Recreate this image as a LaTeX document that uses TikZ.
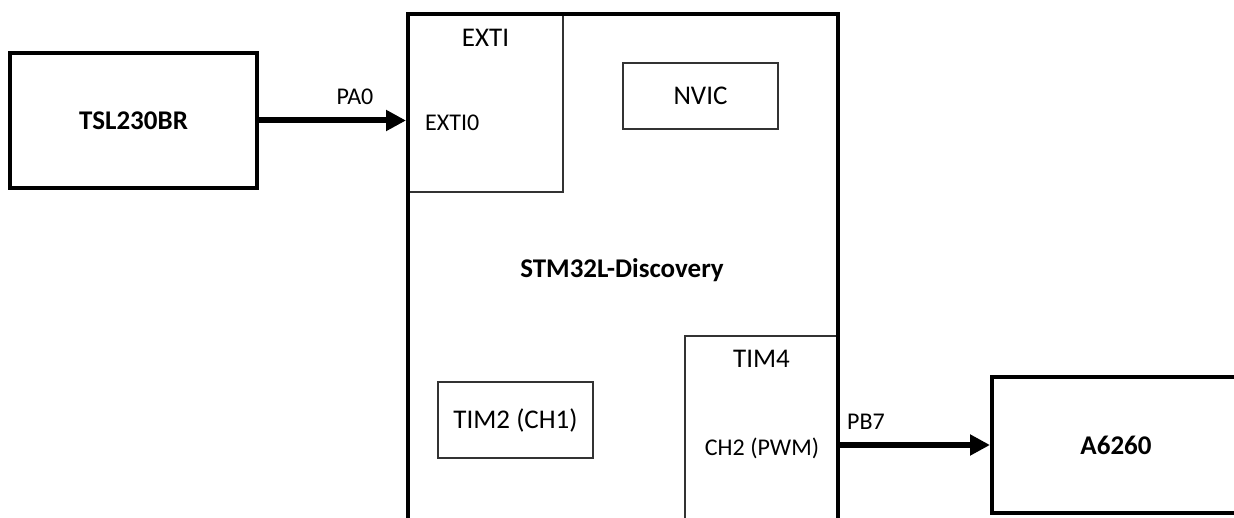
\documentclass[tikz,border=0pt]{standalone}
\usepackage{fontspec}
\setmainfont{Carlito}
\usetikzlibrary{arrows.meta}
\begin{document}
\begin{tikzpicture}[x=1pt,y=-1pt,
  thickbox/.style={draw=black, line width=4pt, inner sep=0pt, font=\fontsize{27}{32}\selectfont\bfseries},
  thinbox/.style={draw=black!80, line width=1.5pt, inner sep=0pt, font=\fontsize{27}{32}\selectfont},
  smalllbl/.style={inner sep=0pt, font=\fontsize{24}{28}\selectfont},
  biglbl/.style={inner sep=0pt, font=\fontsize{27}{32}\selectfont},
  conn/.style={line width=6pt, -{Triangle[length=20pt,width=20pt]}}]
\useasboundingbox (0,0) rectangle (1234,518);
\clip (0,0) rectangle (1234,518);
% inner blocks
\node[thinbox, minimum width=155pt, minimum height=178pt] (exti) at (485.5,103) {};
\node[thinbox, minimum width=155pt, minimum height=66pt] (nvic) at (700.5,96) {NVIC};
\node[thinbox, minimum width=155pt, minimum height=76pt] (tim2) at (515.5,420) {TIM2 (CH1)};
\node[thinbox, minimum width=153pt, minimum height=264pt] (tim4) at (761.5,468) {};
% main board
\node[thickbox, minimum width=430pt, minimum height=586pt] (stm) at (623,307) {};
% external blocks
\node[thickbox, minimum width=247pt, minimum height=135pt] (tsl) at (133.5,120.5) {TSL230BR};
\node[thickbox, minimum width=248pt, minimum height=136pt] (drv) at (1116,445) {A6260};
% texts
\node[biglbl] (extilbl) at (485.5,38) {EXTI};
\node[smalllbl, anchor=west] (exti0) at (425,123) {EXTI0};
\node[biglbl] (tim4lbl) at (761.5,359) {TIM4};
\node[smalllbl] (ch2) at (762,448) {CH2 (PWM)};
\node[biglbl, font=\fontsize{27}{32}\selectfont\bfseries] (stmlbl) at (622,270) {STM32L-Discovery};
\node[smalllbl] (pa0) at (355,97) {PA0};
\node[smalllbl, anchor=west] (pb7) at (847,422) {PB7};
% connectors
\draw[conn] (tsl.east) -- (tsl.east -| stm.west);
\draw[conn] (drv.west -| stm.east) -- (drv.west);
\end{tikzpicture}
\end{document}
